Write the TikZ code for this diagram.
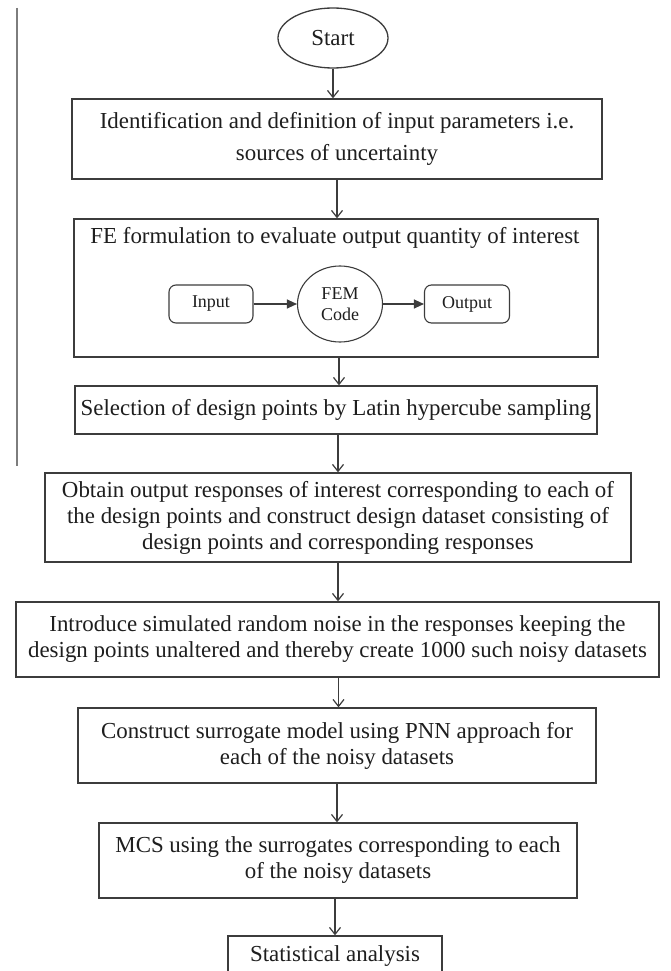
\documentclass[tikz,border=0pt]{standalone}
\usepackage{fontspec}
\setmainfont{Liberation Serif}
\usetikzlibrary{arrows.meta,shapes.geometric,positioning}
\definecolor{inkGray}{RGB}{30,30,30}
\definecolor{edgeGray}{RGB}{60,60,60}
\definecolor{marginGray}{RGB}{125,125,125}
\tikzset{
  stepbox/.style={draw=edgeGray,line width=1.3pt,align=center,inner sep=0pt,
    text=inkGray,font=\fontsize{22.9}{26}\selectfont},
  innerbox/.style={draw=edgeGray,line width=1.1pt,align=center,inner sep=0pt,
    text=inkGray,font=\fontsize{18}{21}\selectfont},
  flowarrow/.style={draw=edgeGray,line width=1.2pt,-{Straight Barb[length=7pt,width=11pt]}},
  innerarrow/.style={draw=edgeGray,line width=1.1pt,-{Triangle[length=10pt,width=9pt]}}
}
\begin{document}
\begin{tikzpicture}[x=1pt,y=-1pt]
  \useasboundingbox (0,0) rectangle (670,971);
  \fill[white] (0,0) rectangle (670,971);
  % margin rule on the left
  \draw[marginGray,line width=1.8pt] (17,8) -- (17,466);
  % main steps
  \node[stepbox,ellipse,minimum width=110pt,minimum height=60pt] (start) at (333,38) {Start};
  \node[stepbox,minimum width=530pt,minimum height=80pt,font=\fontsize{22.9}{32}\selectfont] (ident) at (337,139)
    {Identification and definition of input parameters i.e.\\ sources of uncertainty};
  \node[stepbox,minimum width=524pt,minimum height=138pt] (fe) at (336,288) {};
  \node[text=inkGray,font=\fontsize{22.9}{26}\selectfont] (fetitle) at (335,238)
    {FE formulation to evaluate output quantity of interest};
  \node[innerbox,rounded corners=7pt,minimum width=84pt,minimum height=38pt] (input) at (211,304) {Input};
  \node[innerbox,ellipse,minimum width=85pt,minimum height=76pt] (fem) at (340,304) {FEM\\ Code};
  \node[innerbox,rounded corners=7pt,minimum width=85pt,minimum height=38pt] (output) at (467,304) {Output};
  \node[stepbox,minimum width=522pt,minimum height=48pt] (select) at (336,410)
    {Selection of design points by Latin hypercube sampling};
  \node[stepbox,minimum width=586pt,minimum height=89pt] (obtain) at (338,517.5)
    {Obtain output responses of interest corresponding to each of\\
     the design points and construct design dataset consisting of\\
     design points and corresponding responses};
  \node[stepbox,minimum width=643pt,minimum height=75pt] (noise) at (337.5,639.5)
    {Introduce simulated random noise in the responses keeping the\\
     design points unaltered and thereby create 1000 such noisy datasets};
  \node[stepbox,minimum width=518pt,minimum height=75pt] (surro) at (337,745.5)
    {Construct surrogate model using PNN approach for\\ each of the noisy datasets};
  \node[stepbox,minimum width=478pt,minimum height=75pt] (mcs) at (338,860.5)
    {MCS using the surrogates corresponding to each\\ of the noisy datasets};
  \node[stepbox,minimum width=214pt,minimum height=40pt] (stats) at (335,956) {Statistical analysis};
  % connectors
  \draw[flowarrow] (start.south) -- (start.south |- ident.north);
  \draw[flowarrow] (ident.south) -- (ident.south |- fe.north);
  \draw[flowarrow] ([xshift=3pt]fe.south) -- ([xshift=3pt]fe.south |- select.north);
  \draw[flowarrow] ([xshift=2pt]select.south) -- ([xshift=2pt]select.south |- obtain.north);
  \draw[flowarrow] (obtain.south) -- (obtain.south |- noise.north);
  \draw[flowarrow] ([xshift=1pt]noise.south) -- ([xshift=1pt]noise.south |- surro.north);
  \draw[flowarrow] (surro.south) -- (surro.south |- mcs.north);
  \draw[flowarrow] ([xshift=-3pt]mcs.south) -- ([xshift=-3pt]mcs.south |- stats.north);
  \draw[innerarrow] (input) -- (fem);
  \draw[innerarrow] (fem) -- (output);
\end{tikzpicture}
\end{document}
